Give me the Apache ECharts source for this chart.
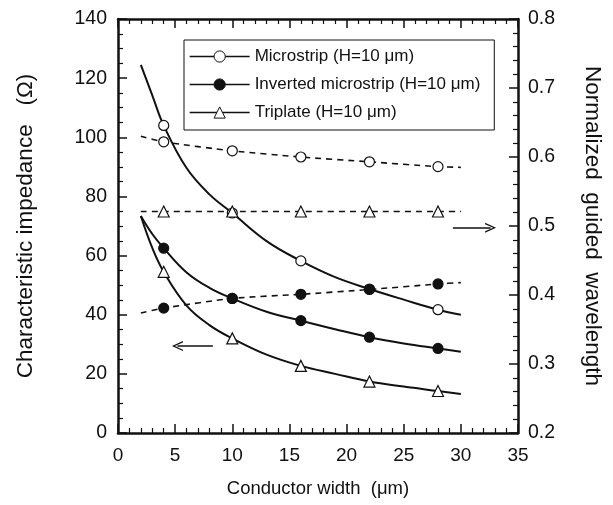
<!DOCTYPE html>
<html><head><meta charset="utf-8">
<script src="https://cdn.jsdelivr.net/npm/echarts@6/dist/echarts.min.js"></script>
<style>html,body{margin:0;padding:0;background:#fff}#c{width:613px;height:505px}</style>
</head><body><div id="c"></div>
<script>
// Characteristic impedance (left axis)
const zWidths    = [2,     3,     4,    6,    8,    10,   13,   16,   19,   22,   25,   28,   30];
const zMicro     = [124.5, 114.2, 104,  89.6, 80.7, 74.4, 64.9, 58.2, 52.7, 48.7, 45.1, 41.7, 40.0];
const zInverted  = [73.4,  67.3,  62.5, 54.3, 49.1, 45.5, 41.0, 38.0, 35.1, 32.4, 30.3, 28.6, 27.5];
const zTriplate  = [73.4,  62.6,  54.5, 43.1, 36.5, 32.0, 26.5, 22.7, 20.0, 17.4, 15.7, 14.2, 13.2];
// Normalized guided wavelength (right axis)
const wlWidths   = [2,     4,     10,    16,    22,    28,    30];
const wlMicro    = [0.630, 0.622, 0.609, 0.600, 0.593, 0.586, 0.585];
const wlInverted = [0.374, 0.381, 0.395, 0.401, 0.408, 0.416, 0.418];
const wlTriplate = [0.521, 0.521, 0.521, 0.521, 0.521, 0.521, 0.521];
// widths where measured points are marked
const markerWidths = [4, 10, 16, 22, 28];
const names = ['Microstrip (H=10 μm)', 'Inverted microstrip (H=10 μm)', 'Triplate (H=10 μm)'];
const leftArrow  = [[8.3, 29.4], [5.2, 29.4]];
const rightArrow = [[29.3, 0.4975], [32.6, 0.4975]];

const FONT = 'Liberation Sans';
const ink = '#111';

function pts(xs, ys) {
  return xs.map((x, i) => markerWidths.includes(x) ? [x, ys[i]] : { value: [x, ys[i]], symbol: 'none' });
}

function mk(name, xs, ys, yIdx, shape, fill, dashed, z) {
  return {
    name, type: 'line', yAxisIndex: yIdx, data: pts(xs, ys),
    smooth: dashed ? 0.25 : 0.4,
    symbol: shape, symbolSize: shape === 'triangle' ? 11 : 10,
    showAllSymbol: true, z,
    lineStyle: { color: ink, width: dashed ? 1.6 : 2, type: dashed ? [6, 5] : 'solid' },
    itemStyle: { color: fill, borderColor: ink, borderWidth: 1.2 },
    emphasis: { disabled: true }, animation: false
  };
}

const chevron = 'path://M5,0 L10,12 L8.6,12 L5,3.2 L1.4,12 L0,12 Z';
const arrowSeries = (coords, yIdx) => ({
  type: 'line', yAxisIndex: yIdx, data: [], silent: true,
  markLine: {
    silent: true, animation: false, symbol: ['none', chevron], symbolSize: [10, 11],
    label: { show: false },
    lineStyle: { color: ink, width: 1.5, type: 'solid' },
    emphasis: { disabled: true },
    data: [[{ coord: coords[0] }, { coord: coords[1] }]]
  }
});

const axisCommon = {
  axisLine: { show: true, onZero: false, lineStyle: { color: ink, width: 2.5 } },
  axisTick: { inside: true, length: 9, lineStyle: { color: ink, width: 1.5 } },
  splitLine: { show: false }
};

const chart = echarts.init(document.getElementById('c'), null, { renderer: 'canvas' });
chart.setOption({
  backgroundColor: '#fff',
  animation: false,
  textStyle: { fontFamily: FONT, color: ink },
  grid: { left: 118, right: 95, top: 19, bottom: 72, show: false },
  legend: {
    orient: 'vertical', left: 184, top: 40, data: names,
    backgroundColor: '#fff', borderColor: ink, borderWidth: 1, borderRadius: 0,
    padding: [8, 14, 9, 5], itemGap: 11, itemWidth: 60, itemHeight: 14,
    lineStyle: { width: 1.3 },
    itemStyle: { borderWidth: 1 },
    textStyle: { fontFamily: FONT, fontSize: 17, color: ink },
    selectedMode: false
  },
  xAxis: [
    Object.assign({ type: 'value', min: 0, max: 35, interval: 5, position: 'bottom',
      name: 'Conductor width  (μm)', nameLocation: 'middle', nameGap: 46,
      nameTextStyle: { fontFamily: FONT, fontSize: 18.5, color: ink },
      minorTick: { show: true, splitNumber: 5, length: 5, lineStyle: { color: ink, width: 1.2 } },
      axisLabel: { fontFamily: FONT, fontSize: 19, color: ink, margin: 13 } }, axisCommon),
    Object.assign({ type: 'value', min: 0, max: 35, interval: 5, position: 'top',
      minorTick: { show: true, splitNumber: 5, length: 5, lineStyle: { color: ink, width: 1.2 } },
      axisLabel: { show: false } }, axisCommon)
  ],
  yAxis: [
    Object.assign({ type: 'value', min: 0, max: 140, interval: 20, position: 'left',
      name: 'Characteristic impedance   (Ω)', nameLocation: 'middle', nameGap: 81, nameRotate: 90,
      nameTextStyle: { fontFamily: FONT, fontSize: 22.5, color: ink },
      minorTick: { show: true, splitNumber: 4, length: 5, lineStyle: { color: ink, width: 1.2 } },
      axisLabel: { fontFamily: FONT, fontSize: 19.5, color: ink, margin: 11 } }, axisCommon),
    Object.assign({ type: 'value', min: 0.2, max: 0.8, interval: 0.1, position: 'right',
      name: 'Normalized  guided  wavelength', nameLocation: 'middle', nameGap: 63, nameRotate: -90,
      nameTextStyle: { fontFamily: FONT, fontSize: 22.5, color: ink },
      minorTick: { show: true, splitNumber: 5, length: 5, lineStyle: { color: ink, width: 1.2 } },
      axisLabel: { fontFamily: FONT, fontSize: 19.5, color: ink, margin: 10, formatter: v => v.toFixed(1) } }, axisCommon)
  ],
  series: [
    mk(names[0], zWidths, zMicro, 0, 'circle', '#fff', false, 3),
    mk(names[0], wlWidths, wlMicro, 1, 'circle', '#fff', true, 3),
    mk(names[2], zWidths, zTriplate, 0, 'triangle', '#fff', false, 4),
    mk(names[2], wlWidths, wlTriplate, 1, 'triangle', '#fff', true, 4),
    mk(names[1], zWidths, zInverted, 0, 'circle', ink, false, 5),
    mk(names[1], wlWidths, wlInverted, 1, 'circle', ink, true, 5),
    arrowSeries(leftArrow, 0),
    arrowSeries(rightArrow, 1)
  ]
});
</script></body></html>
